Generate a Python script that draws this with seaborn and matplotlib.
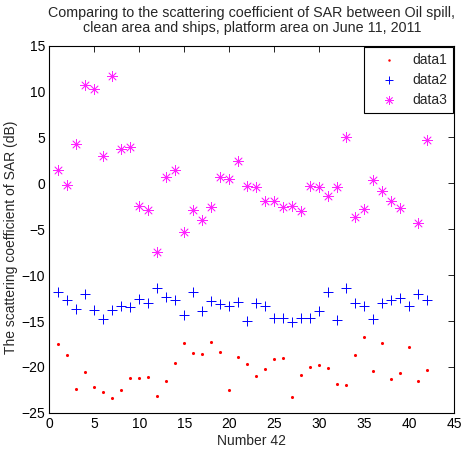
import numpy as np
import pandas as pd
import matplotlib
matplotlib.use("Agg")
import matplotlib.pyplot as plt
import seaborn as sns

x = list(range(1, 43))
data1 = [-17.54, -18.70, -22.37, -20.52, -22.19, -22.73, -23.35, -22.55, -21.24, -21.24,
         -21.07, -23.20, -21.54, -19.61, -17.43, -18.49, -18.63, -17.25, -18.38, -22.48,
         -18.95, -19.73, -21.03, -20.23, -19.14, -19.00, -23.28, -20.92, -20.01, -19.83,
         -20.09, -21.90, -22.00, -18.67, -16.74, -20.48, -17.40, -21.28, -20.66, -17.87,
         -21.54, -20.34]
data2 = [-11.84, -12.68, -13.66, -12.06, -13.80, -14.78, -13.84, -13.40, -13.51, -12.57,
         -13.04, -11.37, -12.35, -12.71, -14.35, -11.87, -13.94, -12.82, -13.15, -13.37,
         -12.93, -14.97, -13.07, -13.40, -14.64, -14.64, -15.14, -14.64, -14.71, -13.88,
         -11.84, -14.89, -11.41, -13.07, -13.40, -14.78, -13.00, -12.71, -12.46, -13.37,
         -12.06, -12.68]
data3 = [1.48, -0.22, 4.28, 10.74, 10.24, 3.00, 11.69, 3.77, 3.95, -2.44,
         -2.94, -7.45, 0.69, 1.41, -5.27, -2.87, -4.03, -2.55, 0.69, 0.51,
         2.39, -0.33, -0.37, -1.89, -1.89, -2.62, -2.47, -2.98, -0.29, -0.37,
         -1.38, -0.44, 5.01, -3.64, -2.84, 0.36, -0.87, -1.96, -2.66, np.nan,
         -4.29, 4.72]
series_names = ["data1", "data2", "data3"]
title = "Comparing to the scattering coefficient of SAR between Oil spill,\nclean area and ships, platform area on June 11, 2011"
xlabel = "Number 42"
ylabel = "The scattering coefficient of SAR (dB)"

sns.set_style("white")
plt.rcParams['font.family'] = ['Liberation Sans', 'DejaVu Sans']
plt.rcParams['font.size'] = 10

fig = plt.figure(figsize=(4.63, 4.54), dpi=100)
ax = fig.add_axes([0.1065, 0.0907, 0.8747, 0.8089])

df = pd.DataFrame({"x": x, "data1": data1, "data2": data2, "data3": data3})

asterisk = (8, 2, 0)
sns.scatterplot(data=df, x="x", y="data1", ax=ax, marker="o", color="red", s=5,
                linewidth=0, label=series_names[0])
sns.scatterplot(data=df, x="x", y="data2", ax=ax, marker="+", color="blue",
                edgecolor="blue", s=55, linewidth=0.7, label=series_names[1])
sns.scatterplot(data=df, x="x", y="data3", ax=ax, marker=asterisk, color="#ff22ff",
                edgecolor="#ff22ff", s=50, linewidth=0.55, label=series_names[2])

ax.set_xlim(0, 45)
ax.set_ylim(-25, 15)
ax.set_xticks(range(0, 46, 5))
ax.set_yticks(range(-25, 16, 5))
ax.tick_params(direction="in", top=True, right=True, length=4, width=0.6,
               labelsize=10, colors="black", pad=3)
for sp in ax.spines.values():
    sp.set_color("black")
    sp.set_linewidth(0.8)
ax.set_xlabel(xlabel, fontsize=10, labelpad=2)
ax.set_ylabel(ylabel, fontsize=10)
ax.yaxis.set_label_coords(-0.077, 0.479)
ax.set_title(title, fontsize=10.3, pad=10, linespacing=1.1)

leg = ax.legend(loc="upper right", fancybox=False, edgecolor="black", framealpha=1,
                borderaxespad=0.1, fontsize=10, handletextpad=0.25, borderpad=0.4,
                handlelength=2.8, labelspacing=0.45, markerscale=0.8)
leg.get_frame().set_linewidth(0.8)

fig.savefig("out.png", dpi=100)
